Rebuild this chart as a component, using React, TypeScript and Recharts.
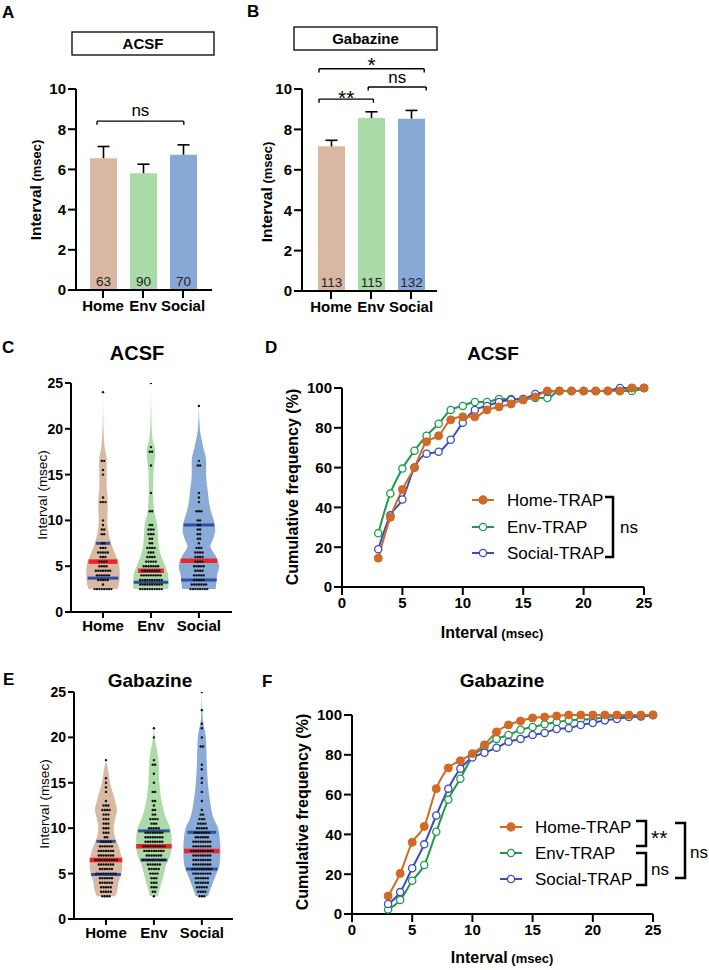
import React from 'react';
import {
  BarChart, Bar, Cell, LabelList, LineChart, Line, ComposedChart, Area, Scatter,
  XAxis, YAxis, ReferenceLine,
} from 'recharts';

const FONT = '"Liberation Sans", Arial, Helvetica, sans-serif';

const GROUPS = ['Home', 'Env', 'Social'];
const GROUP_POS = [1, 2, 3];
const SERIES = ['Home-TRAP', 'Env-TRAP', 'Social-TRAP'];
const BAR_FILL = ['#D8B8A2', '#AADAA7', '#88A9D6'];
const VIOLIN_FILL = ['#DAB9A3', '#ACDBA7', '#8AABD8'];
const LINE_COLOR = ['#D06A26', '#1F9A4B', '#3B4DBA'];

// A / B: mean interval (msec), upper SEM, n
const ACSF_MEAN = [6.56, 5.81, 6.73];
const ACSF_SEM = [0.58, 0.45, 0.49];
const ACSF_N = [63, 90, 70];
const GABA_MEAN = [7.16, 8.56, 8.53];
const GABA_SEM = [0.3, 0.31, 0.41];
const GABA_N = [113, 115, 132];

// C / E violins: outline [interval, half width], dots [interval, count], [q1, median, q3] lines [interval, half width]
const C_HOME_SHAPE = [[2.5, 0.3], [3, 0.33], [4, 0.35], [5, 0.34], [6, 0.28], [6.8, 0.22], [7.5, 0.17], [8.5, 0.12], [10, 0.09], [12, 0.1], [14, 0.075], [16.5, 0.08], [18, 0.035], [20, 0.01], [24, 0]];
const C_ENV_SHAPE = [[2.5, 0.36], [3, 0.37], [4, 0.36], [5, 0.3], [6, 0.22], [7, 0.17], [8, 0.15], [9.5, 0.13], [11, 0.07], [13, 0.045], [15, 0.05], [17.5, 0.09], [19, 0.03], [21, 0.01], [25, 0]];
const C_SOCIAL_SHAPE = [[2.5, 0.35], [3, 0.36], [4, 0.38], [5, 0.42], [6, 0.36], [7.2, 0.24], [8, 0.3], [9, 0.34], [10, 0.31], [11, 0.25], [12, 0.21], [13, 0.19], [15, 0.15], [16.5, 0.15], [18, 0.09], [20, 0.02], [22.5, 0]];
const E_HOME_SHAPE = [[2.5, 0.19], [3, 0.23], [4, 0.26], [5, 0.32], [6, 0.34], [7, 0.32], [8, 0.26], [9, 0.19], [10, 0.16], [11, 0.19], [12, 0.23], [13, 0.19], [15, 0.085], [16.5, 0.04], [17.5, 0]];
const E_ENV_SHAPE = [[2.5, 0.085], [3, 0.105], [4, 0.16], [5, 0.21], [6, 0.26], [7, 0.34], [8, 0.37], [9, 0.37], [10, 0.34], [11, 0.26], [13, 0.16], [15, 0.115], [17.5, 0.095], [20, 0.02], [21, 0]];
const E_SOCIAL_SHAPE = [[2.5, 0.125], [3, 0.16], [4, 0.23], [5, 0.305], [6, 0.37], [7, 0.385], [8, 0.385], [9, 0.37], [10, 0.34], [11, 0.25], [13, 0.17], [15, 0.125], [17, 0.105], [20, 0.085], [22, 0.02], [25, 0]];

const C_HOME_DOTS = [[2.5, 8], [3, 1], [3.5, 5], [4, 6], [4.5, 7], [5, 4], [5.5, 4], [6, 3], [6.5, 5], [7, 3], [7.5, 2], [8.5, 2], [9, 2], [9.5, 1], [10, 1], [12, 3], [12.5, 1], [15, 1], [15.5, 1], [16.5, 2], [24, 1]];
const C_ENV_DOTS = [[2.5, 10], [3, 10], [3.5, 10], [4, 9], [4.5, 8], [5, 7], [5.5, 5], [6, 4], [6.5, 3], [7, 4], [7.5, 2], [8, 2], [8.5, 3], [9, 3], [9.5, 2], [11, 2], [13, 1], [16, 1], [17.5, 2], [18, 1], [25, 1]];
const C_SOCIAL_DOTS = [[2.5, 8], [3, 7], [3.5, 5], [4, 5], [4.5, 4], [5, 5], [5.5, 4], [6, 4], [6.5, 4], [7, 3], [7.5, 1], [8, 2], [8.5, 2], [9, 2], [9.5, 2], [10, 2], [11, 3], [12, 1], [12.5, 1], [13, 1], [16, 2], [16.5, 1], [22.5, 1]];
const E_HOME_DOTS = [[2.5, 4], [3, 5], [3.5, 5], [4, 6], [4.5, 6], [5, 9], [5.5, 6], [6, 7], [6.5, 10], [7, 7], [7.5, 7], [8, 6], [8.5, 5], [9, 2], [9.5, 3], [10, 3], [10.5, 3], [11, 3], [11.5, 3], [12, 4], [12.5, 3], [13, 1], [14, 1], [14.5, 1], [15, 1], [15.5, 1], [17.5, 1]];
const E_ENV_DOTS = [[2.5, 1], [3, 2], [3.5, 3], [4, 3], [4.5, 3], [5, 4], [5.5, 5], [6, 6], [6.5, 10], [7, 7], [7.5, 9], [8, 10], [8.5, 8], [9, 8], [9.5, 8], [10, 5], [10.5, 3], [11, 4], [11.5, 2], [12, 2], [12.5, 1], [13, 2], [14, 2], [15, 1], [16, 1], [17, 2], [17.5, 1], [20, 1], [21, 1]];
const E_SOCIAL_DOTS = [[2.5, 3], [3, 4], [3.5, 5], [4, 6], [4.5, 6], [5, 8], [5.5, 9], [6, 8], [6.5, 8], [7, 8], [7.5, 10], [8, 8], [8.5, 8], [9, 6], [9.5, 7], [10, 5], [10.5, 4], [11, 3], [11.5, 2], [12, 1], [13, 1], [14, 1], [15, 1], [15.5, 1], [16.5, 1], [17, 1], [19, 2], [20, 1], [21, 1], [21.5, 1], [23, 1], [25, 1]];

// [q1, median, q3] as drawn; the upper quartile of C Env is hidden under its dots
const C_HOME_QUART = [[3.7, 0.32], [5.5, 0.3], [7.5, 0.15]];
const C_ENV_QUART = [[3.25, 0.36], [4.5, 0.27]];
const C_SOCIAL_QUART = [[3.5, 0.37], [5.6, 0.38], [9.5, 0.32]];
const E_HOME_QUART = [[4.9, 0.31], [6.5, 0.34], [8.55, 0.2]];
const E_ENV_QUART = [[6.5, 0.28], [8.0, 0.37], [9.7, 0.33]];
const E_SOCIAL_QUART = [[5.5, 0.33], [7.5, 0.37], [9.55, 0.3]];

// D / F cumulative frequency (%) at interval 3..25 msec
const CUM_X = [3, 4, 5, 6, 7, 8, 9, 10, 11, 12, 13, 14, 15, 16, 17, 18, 19, 20, 21, 22, 23, 24, 25];
const D_HOME = [14.5, 35, 49, 60, 73, 76, 84, 85.5, 85.5, 89, 90.5, 92, 94, 95.5, 98.5, 98.5, 98.5, 98.5, 98.5, 98.5, 98.5, 100, 100];
const D_ENV = [27, 47, 59.5, 68.5, 76, 82, 89, 91, 93, 93, 94.5, 94.5, 94.5, 95, 95, 98.5, 98.5, 98.5, 98.5, 98.5, 98.5, 98.5, 100];
const D_SOCIAL = [19, 36, 44, 60, 67, 68, 74, 82.5, 89, 91, 93, 94, 94.5, 97, 98, 98.5, 98.5, 98.5, 98.5, 98.5, 100, 100, 100];
const F_HOME = [9, 20.4, 36, 44, 63, 73.4, 77, 80.6, 85, 91.5, 95, 97, 98.5, 99, 99.5, 100, 100, 100, 100, 100, 100, 100, 100];
const F_ENV = [2.3, 7, 16.7, 24.6, 41.3, 57.5, 68, 79, 84, 88, 90, 92.6, 94, 95.3, 96.5, 97.3, 97.7, 98, 99, 99.3, 99.5, 99.5, 100];
const F_SOCIAL = [5, 11, 23, 35, 49.5, 63, 73, 78.6, 81, 83.6, 86.5, 88, 90, 91, 93, 93.4, 95, 96, 97.3, 98, 99, 99.3, 100];

// significance brackets over bars: x span (group units), y (msec), label
const A_BRACKETS = [{ x1: 0.85, x2: 3.02, y: 8.4, text: 'ns', size: 17, dy: 5 }];
const B_BRACKETS = [
  { x1: 0.7, x2: 3.33, y: 11.0, text: '*', size: 21, dy: -3 },
  { x1: 0.7, x2: 2.06, y: 9.5, text: '**', size: 21, dy: -6 },
  { x1: 1.93, x2: 3.38, y: 10.1, text: 'ns', size: 17, dy: 4 },
];

const VIOLINS_C = [
  { shape: C_HOME_SHAPE, dots: C_HOME_DOTS, quart: C_HOME_QUART },
  { shape: C_ENV_SHAPE, dots: C_ENV_DOTS, quart: C_ENV_QUART },
  { shape: C_SOCIAL_SHAPE, dots: C_SOCIAL_DOTS, quart: C_SOCIAL_QUART },
];
const VIOLINS_E = [
  { shape: E_HOME_SHAPE, dots: E_HOME_DOTS, quart: E_HOME_QUART },
  { shape: E_ENV_SHAPE, dots: E_ENV_DOTS, quart: E_ENV_QUART },
  { shape: E_SOCIAL_SHAPE, dots: E_SOCIAL_DOTS, quart: E_SOCIAL_QUART },
];

const DOT_STEP = 0.05;
const AX = { stroke: '#000', strokeWidth: 2 };
const groupName = (v: number) => GROUPS[v - 1] ?? '';

// lay the dots of each value side by side around the violin centre
function swarm(rows: number[][], center: number) {
  const pts: { x: number; v: number }[] = [];
  rows.forEach(([v, n]) => {
    for (let k = 0; k < n; k++) pts.push({ x: center + (k - (n - 1) / 2) * DOT_STEP, v });
  });
  return pts;
}

const ErrCap = (p: any) => {
  const cx = p.x + p.width / 2;
  return (
    <g>
      <line x1={cx} x2={cx} y1={p.y + p.height} y2={p.y} stroke="#000" strokeWidth={1.6} />
      <line x1={cx - 6} x2={cx + 6} y1={p.y} y2={p.y} stroke="#000" strokeWidth={1.6} />
    </g>
  );
};

const bracketLabel = (text: string, size: number, dy: number) => (p: any) => {
  const vb = p.viewBox || {};
  const x = (vb.x ?? 0) + (vb.width ?? 0) / 2;
  return (
    <text x={x} y={(vb.y ?? 0) - dy} textAnchor="middle" fontSize={size} fill="#000">{text}</text>
  );
};

function BarPanel({ left, top, width, height, margin, xDomain, means, sems, ns, brackets }: any) {
  const data = GROUPS.map((g, i) => ({ pos: GROUP_POS[i], name: g, mean: means[i], sem: sems[i], n: ns[i] }));
  return (
    <div style={{ position: 'absolute', left, top }}>
      <BarChart width={width} height={height} data={data} margin={margin}>
        <XAxis type="number" dataKey="pos" domain={xDomain} allowDataOverflow ticks={GROUP_POS} interval={0}
          tickFormatter={groupName} height={30} tickSize={8} axisLine={AX} tickLine={AX}
          tick={{ fill: '#000', fontSize: 15, fontWeight: 700 }} />
        <YAxis type="number" domain={[0, 10]} allowDataOverflow ticks={[0, 2, 4, 6, 8, 10]} width={40}
          tickSize={8} axisLine={AX} tickLine={AX} tick={{ fill: '#000', fontSize: 15, fontWeight: 700 }} />
        <Bar dataKey="mean" stackId="s" barSize={27} isAnimationActive={false}>
          {data.map((d, i) => <Cell key={d.name} fill={BAR_FILL[i]} />)}
          <LabelList dataKey="n" position="insideBottom" offset={4} fill="#222" fontSize={13.5} />
        </Bar>
        <Bar dataKey="sem" stackId="s" barSize={27} isAnimationActive={false} shape={ErrCap} />
        {brackets.map((b: any, k: number) => (
          <React.Fragment key={k}>
            <ReferenceLine segment={[{ x: b.x1, y: b.y }, { x: b.x2, y: b.y }]} stroke="#000" strokeWidth={1.4}
              ifOverflow="visible" label={{ content: bracketLabel(b.text, b.size, b.dy) }} />
            <ReferenceLine segment={[{ x: b.x1, y: b.y }, { x: b.x1, y: b.y - 0.18 }]} stroke="#000" strokeWidth={1.4} ifOverflow="visible" />
            <ReferenceLine segment={[{ x: b.x2, y: b.y }, { x: b.x2, y: b.y - 0.18 }]} stroke="#000" strokeWidth={1.4} ifOverflow="visible" />
          </React.Fragment>
        ))}
      </BarChart>
    </div>
  );
}

const SwarmDot = (p: any) => <circle cx={p.cx} cy={p.cy} r={1.2} fill="#111" />;

function ViolinPanel({ left, top, width, height, margin, xDomain, violins }: any) {
  return (
    <div style={{ position: 'absolute', left, top, width, height }}>
      {violins.map((vl: any, i: number) => {
        const c = GROUP_POS[i];
        const shape = vl.shape.map(([v, w]: number[]) => ({ v, r: [c - w, c + w] }));
        const dots = swarm(vl.dots, c);
        const show = i === 0;
        return (
          <div key={i} style={{ position: 'absolute', left: 0, top: 0 }}>
            <ComposedChart layout="vertical" width={width} height={height} data={shape} margin={margin}>
              <XAxis type="number" dataKey="x" domain={xDomain} allowDataOverflow ticks={GROUP_POS} interval={0}
                tickFormatter={groupName} height={30} tickSize={6}
                axisLine={show ? AX : false} tickLine={show ? AX : false}
                tick={show ? { fill: '#000', fontSize: 15, fontWeight: 700 } : false} />
              <YAxis type="number" dataKey="v" domain={[0, 25]} reversed allowDataOverflow ticks={[0, 5, 10, 15, 20, 25]}
                width={30} tickSize={6} axisLine={show ? AX : false} tickLine={show ? AX : false}
                tick={show ? { fill: '#000', fontSize: 14, fontWeight: 700 } : false} />
              <Area dataKey="r" type="monotone" stroke="none" fill={VIOLIN_FILL[i]} fillOpacity={1} isAnimationActive={false} />
              {vl.quart.map(([v, w]: number[], k: number) => (
                <ReferenceLine key={k} segment={[{ x: c - w, y: v }, { x: c + w, y: v }]} ifOverflow="visible"
                  stroke={k === 1 ? '#E8262B' : '#2F4EA5'} strokeWidth={k === 1 ? 4.5 : 3} />
              ))}
              <Scatter data={dots} shape={SwarmDot} isAnimationActive={false} />
            </ComposedChart>
          </div>
        );
      })}
    </div>
  );
}

function CumPanel({ left, top, width, height, margin, series }: any) {
  const data = CUM_X.map((x, i) => ({ x, home: series[0][i], env: series[1][i], social: series[2][i] }));
  const open = (color: string) => ({ r: 3.6, fill: '#fff', stroke: color, strokeWidth: 1.3 });
  return (
    <div style={{ position: 'absolute', left, top }}>
      <LineChart width={width} height={height} data={data} margin={margin}>
        <XAxis type="number" dataKey="x" domain={[0, 25]} ticks={[0, 5, 10, 15, 20, 25]} interval={0} height={30}
          tickSize={8} axisLine={AX} tickLine={AX} tick={{ fill: '#000', fontSize: 15, fontWeight: 700 }} />
        <YAxis type="number" domain={[0, 100]} ticks={[0, 20, 40, 60, 80, 100]} width={40} tickSize={8}
          axisLine={AX} tickLine={AX} tick={{ fill: '#000', fontSize: 15, fontWeight: 700 }} />
        <Line dataKey="env" type="monotone" stroke={LINE_COLOR[1]} strokeWidth={2} dot={open(LINE_COLOR[1])} isAnimationActive={false} />
        <Line dataKey="social" type="monotone" stroke={LINE_COLOR[2]} strokeWidth={2} dot={open(LINE_COLOR[2])} isAnimationActive={false} />
        <Line dataKey="home" type="monotone" stroke={LINE_COLOR[0]} strokeWidth={2}
          dot={{ r: 4, fill: LINE_COLOR[0], stroke: LINE_COLOR[0], strokeWidth: 1 }} isAnimationActive={false} />
      </LineChart>
    </div>
  );
}

function LegendRows({ x, ys }: { x: number; ys: number[] }) {
  return (
    <g>
      {SERIES.map((s, i) => (
        <g key={s}>
          <line x1={x - 11} x2={x + 11} y1={ys[i]} y2={ys[i]} stroke={LINE_COLOR[i]} strokeWidth={2} />
          <circle cx={x} cy={ys[i]} r={i === 0 ? 4 : 3.6} fill={i === 0 ? LINE_COLOR[0] : '#fff'} stroke={LINE_COLOR[i]} strokeWidth={1.3} />
          <text x={x + 24} y={ys[i] + 6} fontSize={17}>{s}</text>
        </g>
      ))}
    </g>
  );
}

function YTitle({ x, y, children, size = 15, weight = 700 }: any) {
  return (
    <text x={x} y={y} transform={`rotate(-90 ${x} ${y})`} textAnchor="middle" fontSize={size} fontWeight={weight}>{children}</text>
  );
}

function Annotations() {
  const B = { fontWeight: 700 } as const;
  return (
    <svg width={709} height={970} style={{ position: 'absolute', left: 0, top: 0, pointerEvents: 'none' }} fontFamily={FONT} fill="#000">
      {/* panel letters */}
      <text x={2} y={18} fontSize={17} {...B}>A</text>
      <text x={247} y={17} fontSize={17} {...B}>B</text>
      <text x={2} y={353} fontSize={17} {...B}>C</text>
      <text x={265} y={353} fontSize={17} {...B}>D</text>
      <text x={3} y={685} fontSize={17} {...B}>E</text>
      <text x={262} y={687} fontSize={17} {...B}>F</text>

      {/* boxed titles */}
      <rect x={72} y={32} width={142} height={23} fill="none" stroke="#000" strokeWidth={1.3} />
      <text x={143} y={48.5} textAnchor="middle" fontSize={15} {...B}>ACSF</text>
      <rect x={294} y={27} width={143} height={23} fill="none" stroke="#000" strokeWidth={1.3} />
      <text x={365.5} y={44} textAnchor="middle" fontSize={15} {...B}>Gabazine</text>

      {/* panel titles */}
      <text x={137} y={360} textAnchor="middle" fontSize={20} {...B}>ACSF</text>
      <text x={493} y={360} textAnchor="middle" fontSize={19} {...B}>ACSF</text>
      <text x={150} y={687} textAnchor="middle" fontSize={19} {...B}>Gabazine</text>
      <text x={502} y={687} textAnchor="middle" fontSize={19} {...B}>Gabazine</text>

      {/* axis titles */}
      <YTitle x={41} y={190}><tspan fontSize={15.5}>Interval</tspan><tspan fontSize={13}> (msec)</tspan></YTitle>
      <YTitle x={272} y={192}><tspan fontSize={15.5}>Interval</tspan><tspan fontSize={13}> (msec)</tspan></YTitle>
      <YTitle x={47} y={495} size={13.5} weight={400}>Interval (msec)</YTitle>
      <YTitle x={49} y={804} size={13.5} weight={400}>Interval (msec)</YTitle>
      <YTitle x={298} y={487} size={16}>Cumulative frequency (%)</YTitle>
      <YTitle x={308} y={812} size={16}>Cumulative frequency (%)</YTitle>
      <text x={492} y={638} textAnchor="middle" {...B}><tspan fontSize={16}>Interval</tspan><tspan fontSize={13}> (msec)</tspan></text>
      <text x={502} y={963} textAnchor="middle" {...B}><tspan fontSize={16}>Interval</tspan><tspan fontSize={13}> (msec)</tspan></text>

      {/* legends with comparison brackets */}
      <LegendRows x={483} ys={[500, 527, 553]} />
      <path d="M605 497 H613 V557 H605" fill="none" stroke="#000" strokeWidth={2.5} />
      <text x={620} y={533} fontSize={17}>ns</text>

      <LegendRows x={511} ys={[827, 853, 879]} />
      <path d="M636 821 H646 V846 H636" fill="none" stroke="#000" strokeWidth={2.5} />
      <path d="M636 853 H646 V885 H636" fill="none" stroke="#000" strokeWidth={2.5} />
      <path d="M675 823 H685 V878 H675" fill="none" stroke="#000" strokeWidth={2.5} />
      <text x={651} y={845} fontSize={21}>**</text>
      <text x={651} y={875} fontSize={17}>ns</text>
      <text x={690} y={858} fontSize={17}>ns</text>
    </svg>
  );
}

export default function App() {
  return (
    <div style={{ position: 'absolute', left: 0, top: 0, width: 709, height: 970, background: '#fff', fontFamily: FONT, overflow: 'hidden' }}>
      <BarPanel left={0} top={0} width={240} height={330} margin={{ top: 89, right: 28, bottom: 10, left: 36 }}
        xDomain={[0.325, 3.725]} means={ACSF_MEAN} sems={ACSF_SEM} ns={ACSF_N} brackets={A_BRACKETS} />
      <BarPanel left={240} top={0} width={220} height={330} margin={{ top: 89, right: 23, bottom: 9, left: 22 }}
        xDomain={[0.275, 3.65]} means={GABA_MEAN} sems={GABA_SEM} ns={GABA_N} brackets={B_BRACKETS} />
      <ViolinPanel left={0} top={370} width={240} height={280} margin={{ top: 13, right: 8, bottom: 8, left: 41 }}
        xDomain={[0.333, 3.69]} violins={VIOLINS_C} />
      <ViolinPanel left={0} top={680} width={240} height={280} margin={{ top: 12, right: 7, bottom: 11, left: 44 }}
        xDomain={[0.333, 3.65]} violins={VIOLINS_E} />
      <CumPanel left={230} top={370} width={440} height={290} margin={{ top: 18, right: 26, bottom: 43, left: 72 }}
        series={[D_HOME, D_ENV, D_SOCIAL]} />
      <CumPanel left={230} top={690} width={440} height={260} margin={{ top: 25, right: 17, bottom: 6, left: 82 }}
        series={[F_HOME, F_ENV, F_SOCIAL]} />
      <Annotations />
    </div>
  );
}
